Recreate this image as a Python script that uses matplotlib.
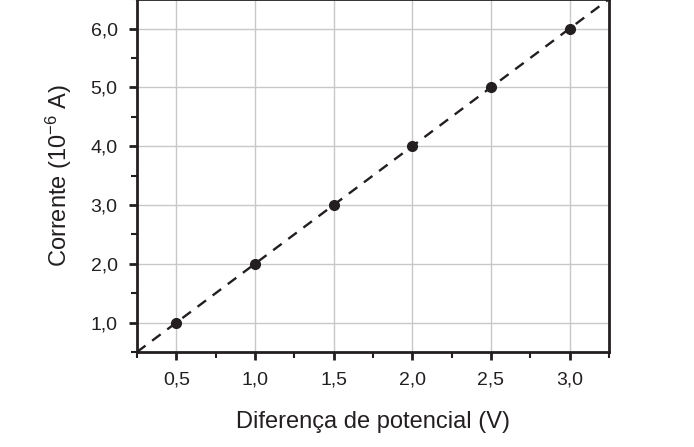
import matplotlib
matplotlib.use("Agg")
import matplotlib.pyplot as plt
from matplotlib.ticker import MultipleLocator, FuncFormatter

voltage = [0.5, 1.0, 1.5, 2.0, 2.5, 3.0]
current = [1.0, 2.0, 3.0, 4.0, 5.0, 6.0]
fit_x = [0.25, 3.25]
fit_y = [0.5, 6.5]

plt.rcParams['font.family'] = ['Liberation Sans', 'DejaVu Sans']
plt.rcParams['mathtext.fontset'] = 'custom'
plt.rcParams['mathtext.rm'] = 'Liberation Sans'
plt.rcParams['mathtext.it'] = 'Liberation Sans'

fig = plt.figure(figsize=(6.94, 4.47), dpi=100)
ax = fig.add_axes([137/694, 1-352/447, (609-137)/694, 352/447 + 0.002])

ax.plot(fit_x, fit_y, color='#231f20', linestyle=(0, (4.5, 3.5)), linewidth=1.7, zorder=2)
ax.plot(voltage, current, 'o', color='#231f20', markersize=7, zorder=3)

ax.set_xlim(0.25, 3.25)
ax.set_ylim(0.5, 6.5)
ax.xaxis.set_major_locator(MultipleLocator(0.5))
ax.xaxis.set_minor_locator(MultipleLocator(0.25))
ax.yaxis.set_major_locator(MultipleLocator(1.0))
ax.yaxis.set_minor_locator(MultipleLocator(0.5))
fmt = FuncFormatter(lambda v, p: f"{v:.1f}".replace('.', ','))
ax.xaxis.set_major_formatter(fmt)
ax.yaxis.set_major_formatter(fmt)

ax.grid(True, which='major', color='#c8c8c8', linewidth=1.0, zorder=0)
ax.set_axisbelow(True)
for s in ax.spines.values():
    s.set_linewidth(2.0)
    s.set_color('#231f20')
ax.tick_params(which='major', direction='out', length=6, width=2, color='#231f20',
               labelsize=14, labelcolor='#231f20', pad=8)
ax.tick_params(which='minor', direction='out', length=4.5, width=1.5, color='#231f20')

ax.set_xlabel('Diferença de potencial (V)', fontsize=17, color='#231f20', labelpad=16)
ax.set_ylabel('Corrente (10$^{−6}$ A)', fontsize=17, color='#231f20', labelpad=12)

fig.savefig('out.png', dpi=100)
